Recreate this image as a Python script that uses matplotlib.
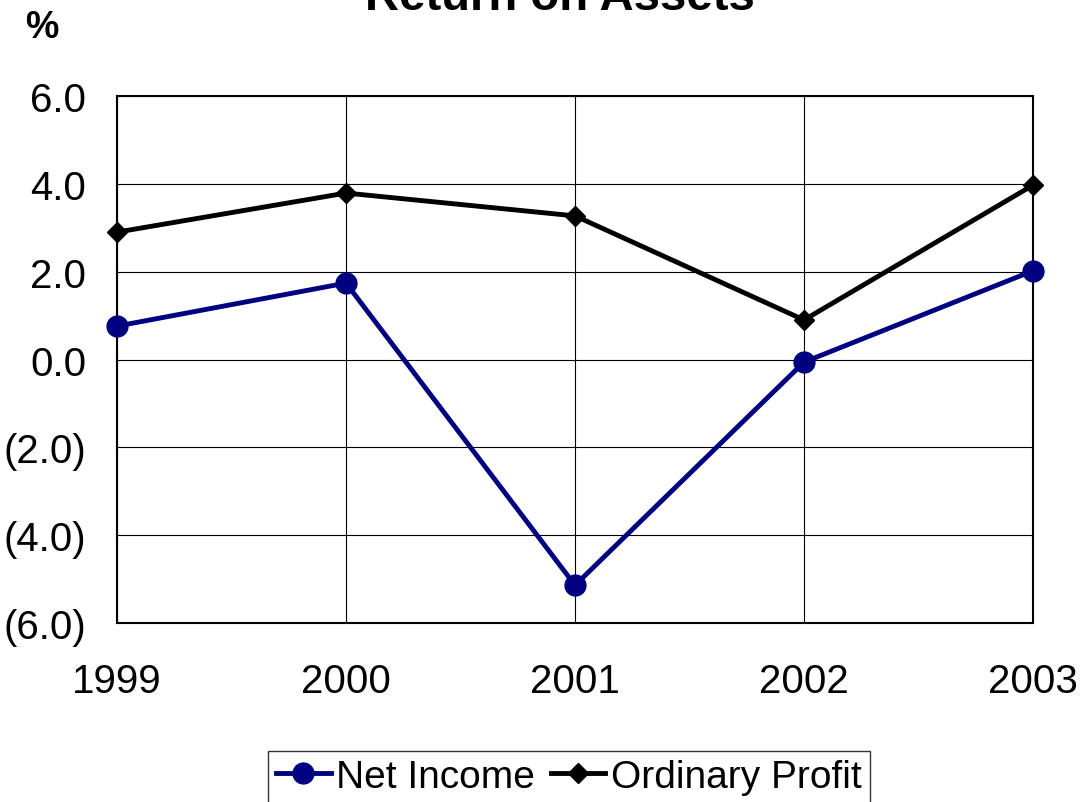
import matplotlib.pyplot as plt
from matplotlib.ticker import FixedLocator

plt.rcParams['font.family'] = ['Liberation Sans', 'DejaVu Sans']

# --- data ---
years = ['1999', '2000', '2001', '2002', '2003']
net_income = [0.76, 1.74, -5.14, -0.06, 2.02]
ordinary_profit = [2.90, 3.79, 3.27, 0.90, 3.97]
y_ticks = [-6, -4, -2, 0, 2, 4, 6]
y_labels = ['(6.0)', '(4.0)', '(2.0)', '0.0', '2.0', '4.0', '6.0']

# --- figure ---
fig = plt.figure(figsize=(10.8, 8.03), dpi=100)
W, H = 1080, 803
ax = fig.add_axes([117 / W, 1 - 624 / H, (1033 - 117) / W, (624 - 97) / H])

x = list(range(len(years)))
ax.plot(x, net_income, color='#000080', lw=3.5, marker='o', ms=15,
        label='Net Income', zorder=3, clip_on=False)
ax.plot(x, ordinary_profit, color='black', lw=3.5, marker='D', ms=10,
        label='Ordinary Profit', zorder=3, clip_on=False)

ax.set_xlim(0, 4)
ax.set_ylim(-6, 6)
ax.set_xticks(x)
ax.set_xticklabels(years)
ax.yaxis.set_major_locator(FixedLocator(y_ticks))
ax.set_yticklabels(y_labels)
ax.tick_params(axis='both', length=0, labelsize=29)
ax.tick_params(axis='x', pad=28)
ax.tick_params(axis='y', pad=22)
ax.grid(True, color='black', lw=0.8)
for s in ax.spines.values():
    s.set_linewidth(1.5)

fig.text(560 / W, 1 - 10 / H, 'Return on Assets', ha='center', va='baseline',
         fontsize=34, fontweight='bold')
fig.text(42 / W, 1 - 28 / H, '%', ha='center', va='center',
         fontsize=27, fontweight='bold')

leg = fig.legend(loc='center', bbox_to_anchor=(569 / W, 1 - 778 / H), ncol=2,
                 fontsize=28, frameon=True, fancybox=False, edgecolor='black',
                 handlelength=1.4, handletextpad=0.15, columnspacing=0.4,
                 borderpad=0.2)
leg.get_frame().set_linewidth(1.0)

fig.savefig('out.png', dpi=100)
